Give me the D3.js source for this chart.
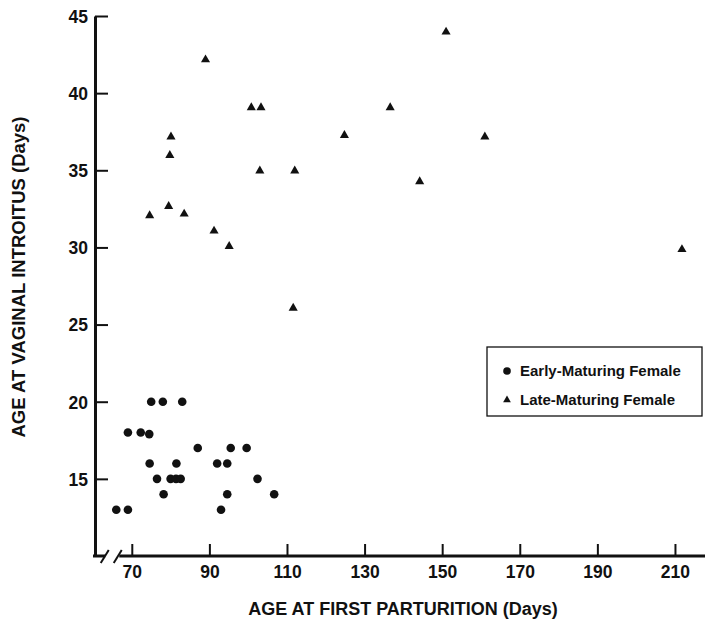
<!DOCTYPE html>
<html>
<head>
<meta charset="utf-8">
<script src="https://cdn.jsdelivr.net/npm/d3@7"></script>
<style>
  body { margin: 0; background: #fff; }
</style>
</head>
<body>
<script>
// early-maturing females (circles): age at first parturition, age at vaginal introitus
const earlyX = [66, 69, 69, 72.3, 74.5, 75, 78, 83, 74.6, 76.5, 78.2, 80, 81.4, 82.6,
                81.5, 87, 92, 94.6, 93, 94.6, 95.5, 99.6, 102.4, 106.7];
const earlyY = [13, 13, 18, 18, 17.9, 20, 20, 20, 16, 15, 14, 15, 15, 15,
                16, 17, 16, 16, 13, 14, 17, 17, 15, 14];

// late-maturing females (triangles)
const lateX = [151, 89, 100.8, 103.3, 136.6, 80.1, 124.8, 161, 79.8, 103, 112,
               144.2, 79.5, 74.6, 83.5, 91.2, 95.1, 111.6, 211.8];
const lateY = [44, 42.2, 39.1, 39.1, 39.1, 37.2, 37.3, 37.2, 36, 35, 35,
               34.3, 32.7, 32.1, 32.2, 31.1, 30.1, 26.1, 29.9];

const xTicks = [70, 90, 110, 130, 150, 170, 190, 210];
const yTicks = [15, 20, 25, 30, 35, 40, 45];
const legendLabels = ["Early-Maturing Female", "Late-Maturing Female"];

const width = 705, height = 621;
const font = '"Liberation Sans", Arial, Helvetica, sans-serif';
const ink = "#111";

const svg = d3.select("body").append("svg")
    .attr("width", width)
    .attr("height", height);

const x = d3.scaleLinear().domain([60, 218]).range([93, 706]);
const y = d3.scaleLinear().domain([10, 45]).range([556, 16]);

function boldText(sel, size) {
  sel.style("font-family", font)
     .style("font-weight", "bold")
     .style("font-size", size + "px")
     .style("fill", ink);
}

// y axis
const yAxis = svg.append("g")
    .attr("transform", "translate(95,0)")
    .call(d3.axisLeft(y).tickValues(yTicks).tickSizeInner(-13).tickSizeOuter(0).tickPadding(7));
yAxis.select(".domain").style("stroke", ink).style("stroke-width", "3px");
yAxis.selectAll(".tick line").style("stroke", ink).style("stroke-width", "2px");
yAxis.selectAll(".tick text").attr("dy", "0.36em").call(boldText, 17.5);

// x axis (domain drawn by hand because of the break)
const xAxis = svg.append("g")
    .attr("transform", "translate(0,556)")
    .call(d3.axisBottom(x).tickValues(xTicks).tickSizeInner(-12).tickSizeOuter(0).tickPadding(10));
xAxis.select(".domain").remove();
xAxis.selectAll(".tick line").style("stroke", ink).style("stroke-width", "2px");
xAxis.selectAll(".tick text").call(boldText, 17.5);

const breakAt = 64.7;
const bx = x(breakAt);
const axisLines = svg.append("g").style("stroke", ink);
axisLines.append("line")
    .attr("x1", x(60)).attr("x2", bx - 6).attr("y1", 556).attr("y2", 556)
    .style("stroke-width", "3px");
axisLines.append("line")
    .attr("x1", bx + 8).attr("x2", x(218)).attr("y1", 556).attr("y2", 556)
    .style("stroke-width", "3px");
[-6.5, 6.5].forEach(o => {
  axisLines.append("line")
      .attr("x1", bx + o - 4).attr("y1", 563)
      .attr("x2", bx + o + 4).attr("y2", 550)
      .style("stroke-width", "2px");
});

// points
svg.append("g")
  .selectAll("circle")
  .data(earlyX.map((d, i) => [d, earlyY[i]]))
  .join("circle")
    .attr("cx", d => x(d[0]))
    .attr("cy", d => y(d[1]))
    .attr("r", 4.3)
    .style("fill", ink);

const tri = d3.symbol().type(d3.symbolTriangle).size(36);
svg.append("g")
  .selectAll("path")
  .data(lateX.map((d, i) => [d, lateY[i]]))
  .join("path")
    .attr("d", tri)
    .attr("transform", d => `translate(${x(d[0])},${y(d[1]) + 0.5})`)
    .style("fill", ink);

// axis titles
svg.append("text")
    .attr("x", 403).attr("y", 615)
    .attr("text-anchor", "middle")
    .call(boldText, 18)
    .text("AGE AT FIRST PARTURITION (Days)");

svg.append("text")
    .attr("transform", "translate(25,277) rotate(-90)")
    .attr("text-anchor", "middle")
    .call(boldText, 18.5)
    .text("AGE AT VAGINAL INTROITUS (Days)");

// legend
const legend = svg.append("g");
legend.append("rect")
    .attr("x", 487).attr("y", 347).attr("width", 215).attr("height", 69)
    .style("fill", "#fff").style("stroke", ink).style("stroke-width", "1.3px");
legend.append("circle")
    .attr("cx", 507).attr("cy", 371).attr("r", 3.8).style("fill", ink);
legend.append("path")
    .attr("d", d3.symbol().type(d3.symbolTriangle).size(26))
    .attr("transform", "translate(507,400)")
    .style("fill", ink);
legend.selectAll("text.lab")
  .data(legendLabels)
  .join("text")
    .attr("class", "lab")
    .attr("x", 520)
    .attr("y", (d, i) => 376 + i * 29)
    .call(boldText, 15)
    .text(d => d);
</script>
</body>
</html>
